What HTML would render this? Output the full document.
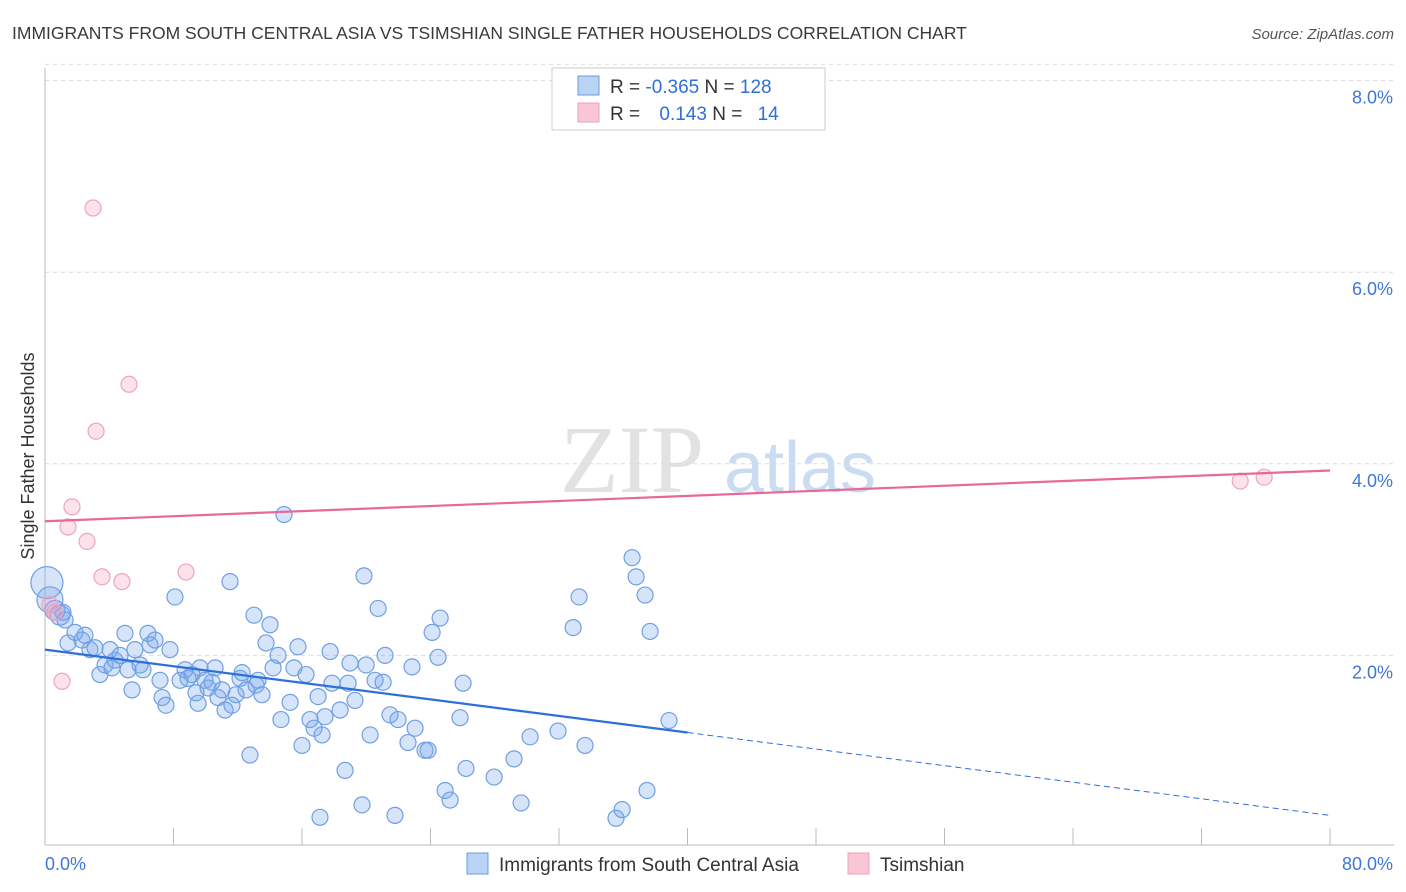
<!DOCTYPE html>
<html><head><meta charset="utf-8"><style>
body{margin:0;background:#fff;font-family:"Liberation Sans",sans-serif;}
svg{display:block}
</style></head><body>
<svg id="chart" width="1406" height="892">
<text x="12" y="39" font-size="17.5" fill="#3a3a3a">IMMIGRANTS FROM SOUTH CENTRAL ASIA VS TSIMSHIAN SINGLE FATHER HOUSEHOLDS CORRELATION CHART</text>
<text x="1394" y="39" font-size="15" font-style="italic" fill="#555" text-anchor="end">Source: ZipAtlas.com</text>
<g>
<text x="632" y="492" font-size="96" font-family="Liberation Serif,serif" fill="#e2e2e2" text-anchor="middle">ZIP</text>
<text x="800" y="492" font-size="72" fill="#c9dcf2" text-anchor="middle">atlas</text>
</g>
<g id="grid"></g>
<g id="axes"></g>
<g id="marks"></g>
<text transform="translate(34,456) rotate(-90)" font-size="18" fill="#333" text-anchor="middle">Single Father Households</text>
<g>
<rect x="552" y="68" width="273" height="62" fill="#fff" stroke="#ccc"/>
<rect x="578" y="76" width="21" height="19" fill="#b9d3f5" stroke="#6a9ae0"/>
<text x="610" y="93" font-size="19" fill="#333">R = <tspan fill="#2f6fd6">-0.365</tspan>   N = <tspan fill="#2f6fd6">128</tspan></text>
<rect x="578" y="103" width="21" height="19" fill="#f8c6d5" stroke="#f0a0b8"/>
<text x="610" y="120" font-size="19" fill="#333">R = <tspan fill="#2f6fd6" dx="14">0.143</tspan>   N = <tspan fill="#2f6fd6" dx="10">14</tspan></text>
</g>
<g>
<rect x="467" y="853" width="21" height="21" fill="#b9d3f5" stroke="#6a9ae0"/>
<text x="499" y="871" font-size="19" fill="#333">Immigrants from South Central Asia</text>
<rect x="848" y="853" width="21" height="21" fill="#f8c6d5" stroke="#f0a0b8"/>
<text x="880" y="871" font-size="19" fill="#333">Tsimshian</text>
</g>
</svg>
<script>
const blueX=[0.12,0.31,0.62,0.93,1.12,1.25,1.43,1.87,2.30,2.49,2.80,3.11,3.42,3.74,4.05,4.17,4.36,4.67,4.98,5.17,5.42,5.60,5.92,6.10,6.41,6.54,6.85,7.16,7.29,7.53,7.78,8.09,8.41,8.72,8.90,9.15,9.40,9.53,9.65,9.96,10.15,10.40,10.59,10.77,11.02,11.21,11.52,11.64,11.89,12.14,12.27,12.52,12.76,13.01,13.14,13.26,13.51,13.76,14.01,14.20,14.51,14.69,14.88,15.26,15.50,15.75,16.00,16.25,16.50,16.75,17.00,17.12,17.25,17.43,17.75,17.87,18.37,18.68,18.87,18.99,19.30,19.74,19.86,19.99,20.24,20.55,20.74,21.05,21.17,21.48,21.79,21.98,22.60,22.85,23.04,23.66,23.85,24.10,24.47,24.60,24.91,25.22,25.84,26.03,26.21,27.96,29.20,29.64,30.20,31.94,32.88,33.25,33.62,35.55,35.93,36.55,36.80,37.36,37.48,37.67,38.85];
const blueY=[2.76,2.58,2.47,2.42,2.45,2.37,2.13,2.24,2.16,2.21,2.06,2.08,1.80,1.90,2.06,1.87,1.95,2.00,2.23,1.85,1.64,2.06,1.90,1.85,2.23,2.11,2.16,1.74,1.56,1.48,2.06,2.61,1.74,1.85,1.76,1.80,1.61,1.50,1.87,1.74,1.66,1.72,1.87,1.56,1.64,1.43,2.77,1.48,1.59,1.76,1.82,1.64,0.96,2.42,1.69,1.74,1.59,2.13,2.32,1.87,2.00,1.33,3.47,1.51,1.87,2.09,1.06,1.80,1.33,1.24,1.57,0.31,1.17,1.36,2.04,1.71,1.43,0.80,1.71,1.92,1.53,0.44,2.83,1.90,1.17,1.74,2.49,1.72,2.00,1.38,0.33,1.33,1.09,1.88,1.24,1.01,1.01,2.24,1.98,2.39,0.59,0.49,1.35,1.71,0.82,0.73,0.92,0.46,1.15,1.21,2.29,2.61,1.06,0.30,0.39,3.02,2.82,2.63,0.59,2.25,1.32];
const pinkX=[2.99,5.23,3.18,1.68,1.43,2.62,3.55,4.79,8.78,1.06,0.62,74.41,75.90,0.31];
const pinkY=[6.67,4.83,4.34,3.55,3.34,3.19,2.82,2.77,2.87,1.73,2.45,3.82,3.86,2.53];
const blueTrend=[2.06,0.33];
const pinkTrend=[3.40,3.93];
const yTicks=[2,4,6,8];
const yTickLabels=["2.0%","4.0%","6.0%","8.0%"];
const xTicks=[0,8,16,24,32,40,48,56,64,72,80];
const NS="http://www.w3.org/2000/svg";
const sx=v=>45+v*1285/80;
const sy=v=>847-v*95.8;
function mk(tag,attrs,parent){const e=document.createElementNS(NS,tag);for(const k in attrs)e.setAttribute(k,attrs[k]);parent.appendChild(e);return e;}
const grid=document.getElementById('grid'),axes=document.getElementById('axes'),marks=document.getElementById('marks');
yTicks.forEach((t,i)=>{
 const l=mk('line',{x1:45,x2:1394,y1:sy(t),y2:sy(t),stroke:'#dcdcdc','stroke-dasharray':'4,4'},grid);
 
 
 const tx=mk('text',{x:1393,y:sy(t)+23,'font-size':18,fill:'#3f77d8','text-anchor':'end'},axes);
 tx.textContent=yTickLabels[i];
 
 
});
const tl=mk('line',{x1:45,x2:1394,y1:sy(8.17),y2:sy(8.17),stroke:'#dcdcdc','stroke-dasharray':'4,4'},grid);


const ya=mk('line',{x1:45,x2:45,y1:68,y2:845,stroke:'#bbb'},axes);


const xa=mk('line',{x1:45,x2:1394,y1:845,y2:845,stroke:'#bbb'},axes);


xTicks.forEach(t=>{
 const l=mk('line',{x1:sx(t),x2:sx(t),y1:828,y2:845,stroke:'#bbb'},axes);
 
 
});
[[0,"0.0%","start",45],[80,"80.0%","end",1393]].forEach(a=>{
 const tx=mk('text',{x:a[3],y:870,'font-size':18,fill:'#3f77d8','text-anchor':a[2]},axes);
 tx.textContent=a[1];
 
 
});
blueX.forEach((x,i)=>{
 const r=i==0?16:(i==1?13:(i<4?10:8));
 const c=mk('circle',{cx:sx(x),cy:sy(blueY[i]),r:r,fill:'rgba(120,165,235,0.3)',stroke:'#6f9fe3','stroke-width':1.2},marks);
 
 
});
pinkX.forEach((x,i)=>{
 const c=mk('circle',{cx:sx(x),cy:sy(pinkY[i]),r:8,fill:'rgba(245,160,190,0.3)',stroke:'#f0a3bc','stroke-width':1.2},marks);
 
 
});
const bAt=x=>blueTrend[0]+(blueTrend[1]-blueTrend[0])*x/80;
const b1=mk('line',{x1:sx(0),y1:sy(bAt(0)),x2:sx(40),y2:sy(bAt(40)),stroke:'#2e6fd8','stroke-width':2.2},marks);


const b2=mk('line',{x1:sx(40),y1:sy(bAt(40)),x2:sx(80),y2:sy(bAt(80)),stroke:'#2e6fd8','stroke-width':1,'stroke-dasharray':'6,4'},marks);


const p1=mk('line',{x1:sx(0),y1:sy(pinkTrend[0]),x2:sx(80),y2:sy(pinkTrend[1]),stroke:'#e8689a','stroke-width':2.2},marks);


</script>
</body></html>
